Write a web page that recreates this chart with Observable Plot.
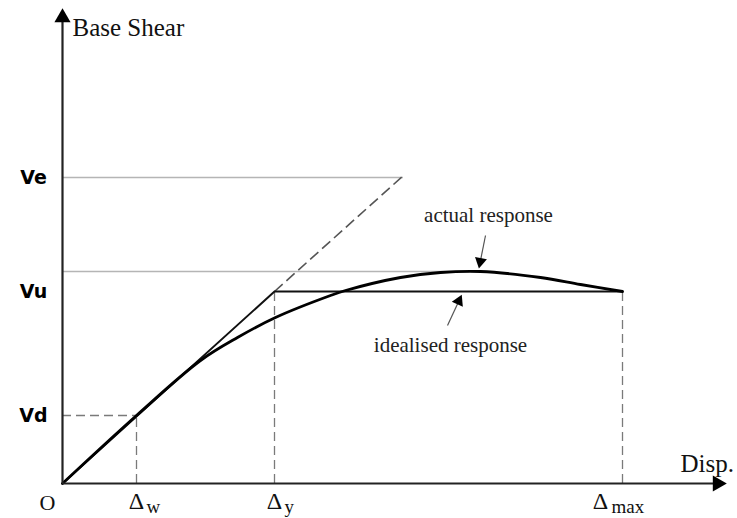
<!DOCTYPE html>
<html>
<head>
<meta charset="utf-8">
<script src="https://cdn.jsdelivr.net/npm/d3@7"></script>
<script src="https://cdn.jsdelivr.net/npm/@observablehq/plot@0.6"></script>
<style>
  html, body { margin: 0; padding: 0; background: #fff; }
  #chart svg { display: block; }
</style>
</head>
<body>
<div id="chart"></div>
<script>
// ---- data (displacement units / base-shear units, origin O = 0,0) ----
const dispNames = ["Δ", "Δ", "Δ"];
const dispSubs = ["w", "y", "max"];
const dispVals = [74, 212, 560];          // Δw, Δy, Δmax
const shearNames = ["Vd", "Vu", "Ve"];
const shearVals = [68, 192, 306];         // Vd, Vu, Ve
const peakShear = 212;                    // max of actual response
const peakLineEnd = 418;                  // thin line at peak shear extends to here
const elasticEnd = [341, 308];            // end of dashed elastic extension
// actual response curve
const actualX = [0, 74, 138, 175, 213, 268, 283, 338, 378, 418, 478, 518, 560];
const actualY = [0, 68, 123, 146, 166, 188, 193, 206, 211, 212, 206, 199, 192];
// annotation arrows: [tailX, tailY, tipX, tipY]
const actualArrow = [423, 248, 417, 218];
const idealArrow = [385, 158, 398, 186];
const axisMaxX = 660, axisMaxY = 471;

const actual = actualX.map((x, i) => ({x, y: actualY[i]}));
const [dw, dy, dmax] = dispVals;
const [vd, vu, ve] = shearVals;

const serif = "Liberation Serif, Times New Roman, serif";
const sans = "DejaVu Sans, Verdana, sans-serif";

function headAngle(a) {
  const dx = a[2] - a[0], dyScreen = -(a[3] - a[1]);
  return Math.atan2(dx, -dyScreen) * 180 / Math.PI;
}
function headPos(a, back) {
  const dx = a[2] - a[0], dy2 = a[3] - a[1];
  const L = Math.hypot(dx, dy2);
  return {x: a[2] - dx / L * back, y: a[3] - dy2 / L * back};
}

const dashed = {stroke: "#7a7a7a", strokeWidth: 1.3, strokeDasharray: "9,5"};

// displacement tick labels (Δ + subscript), one mark pair per label
const deltaOffsets = [0, 0, -22];
const subOffsets = [10, 10, -11];
const dispLabelMarks = dispVals.flatMap((v, i) => [
  Plot.text([dispNames[i]], {x: v, y: 0, dx: deltaOffsets[i], dy: 18, textAnchor: "middle", fontFamily: serif, fontSize: 24, fill: "#111"}),
  Plot.text([dispSubs[i]], {x: v, y: 0, dx: subOffsets[i], dy: 23, textAnchor: "start", fontFamily: serif, fontSize: 19, fill: "#111"})
]);

const chart = Plot.plot({
  width: 737,
  height: 518,
  marginTop: 0, marginRight: 0, marginBottom: 0, marginLeft: 0,
  x: {domain: [-62, 675], axis: null},
  y: {domain: [-35, 483], axis: null},
  marks: [
    Plot.ruleY([ve], {x1: 0, x2: elasticEnd[0], stroke: "#b5b5b5", strokeWidth: 1.3}),
    Plot.ruleY([peakShear], {x1: 0, x2: peakLineEnd, stroke: "#b5b5b5", strokeWidth: 1.3}),
    Plot.ruleY([vd], {x1: 0, x2: dw, ...dashed}),
    Plot.ruleX([dw], {y1: 0, y2: vd, ...dashed}),
    Plot.ruleX([dy], {y1: 0, y2: vu, ...dashed}),
    Plot.ruleX([dmax], {y1: 0, y2: vu, ...dashed}),
    Plot.link([0], {x1: dy, y1: vu, x2: elasticEnd[0], y2: elasticEnd[1], stroke: "#555", strokeWidth: 1.6, strokeDasharray: "11,5"}),
    Plot.line([{x: 0, y: 0}, {x: dy, y: vu}, {x: dmax, y: vu}], {x: "x", y: "y", stroke: "#111", strokeWidth: 2}),
    Plot.line(actual, {x: "x", y: "y", curve: "catmull-rom", stroke: "#000", strokeWidth: 2.8}),
    Plot.ruleX([0], {y1: 0, y2: axisMaxY - 8, stroke: "#222", strokeWidth: 2.2}),
    Plot.ruleY([0], {x1: 0, x2: axisMaxX - 8, stroke: "#222", strokeWidth: 2.2}),
    Plot.dot([0], {x: 0, y: axisMaxY - 5, symbol: "triangle", r: 6, fill: "#000", stroke: null}),
    Plot.dot([0], {x: axisMaxX - 5, y: 0, symbol: "triangle", r: 6, rotate: 90, fill: "#000", stroke: null}),
    Plot.link([actualArrow], {x1: d => d[0], y1: d => d[1], x2: d => d[2], y2: d => d[3], stroke: "#555", strokeWidth: 1.2}),
    Plot.dot([actualArrow], {x: d => headPos(d, 4).x, y: d => headPos(d, 4).y, symbol: "triangle", r: 4.5, rotate: headAngle(actualArrow), fill: "#000", stroke: null}),
    Plot.link([idealArrow], {x1: d => d[0], y1: d => d[1], x2: d => d[2], y2: d => d[3], stroke: "#555", strokeWidth: 1.2}),
    Plot.dot([idealArrow], {x: d => headPos(d, 4).x, y: d => headPos(d, 4).y, symbol: "triangle", r: 4.5, rotate: headAngle(idealArrow), fill: "#000", stroke: null}),
    Plot.text(["actual response"], {x: actualArrow[0] + 3, y: actualArrow[1], dy: -20, fontFamily: serif, fontSize: 21, fill: "#222"}),
    Plot.text(["idealised response"], {x: idealArrow[0] + 3, y: idealArrow[1], dy: 20, fontFamily: serif, fontSize: 21, fill: "#222"}),
    Plot.text(["Base Shear"], {x: 0, y: axisMaxY, dx: 10, dy: 15, textAnchor: "start", fontFamily: serif, fontSize: 25, fill: "#111"}),
    Plot.text(["Disp."], {x: axisMaxX, y: 0, dx: -42, dy: -20, textAnchor: "start", fontFamily: serif, fontSize: 25, fill: "#111"}),
    Plot.text(shearNames, {x: 0, y: (d, i) => shearVals[i], dx: -29, textAnchor: "middle", fontFamily: sans, fontWeight: "bold", fontSize: 19, fill: "#000"}),
    Plot.text(["O"], {x: 0, y: 0, dx: -15, dy: 19, fontFamily: serif, fontSize: 22, fill: "#111"}),
    ...dispLabelMarks
  ]
});
document.getElementById("chart").append(chart);
</script>
</body>
</html>
